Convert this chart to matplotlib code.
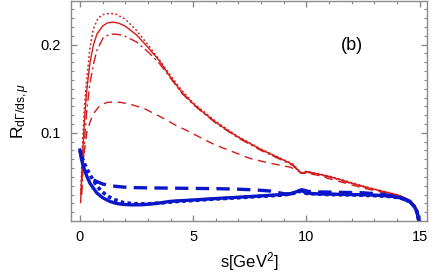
import matplotlib
matplotlib.use("Agg")
import matplotlib.pyplot as plt
from matplotlib.ticker import MultipleLocator

plt.rcParams["font.family"] = ["Liberation Sans", "DejaVu Sans"]
plt.rcParams["mathtext.fontset"] = "custom"
plt.rcParams["mathtext.rm"] = "Liberation Sans"
plt.rcParams["mathtext.it"] = "Liberation Sans:italic"

# ---------------------------------------------------------
# Data
# ---------------------------------------------------------

s_red_solid = [0.03, 0.1, 0.2, 0.3, 0.44, 0.6, 0.75, 1.0, 1.2, 1.44, 1.7, 2.0, 2.5,
               3.0, 3.5, 4.0, 4.5, 5.0, 5.5, 6.0, 6.5, 7.0, 7.5, 8.0, 8.5, 9.0,
               9.4, 9.7, 9.8, 10.0, 10.5, 11.0, 11.5, 12.0, 12.5, 13.0, 13.5,
               14.0, 14.3, 14.6, 14.8, 14.92, 15.0]
y_red_solid = [0.021, 0.065, 0.115, 0.148, 0.179, 0.200, 0.212, 0.221, 0.2245,
               0.2255, 0.2245, 0.221, 0.211, 0.197, 0.182, 0.163, 0.146, 0.133,
               0.122, 0.112, 0.103, 0.095, 0.088, 0.081, 0.075, 0.069, 0.064,
               0.056, 0.054, 0.056, 0.0535, 0.0505, 0.0468, 0.043, 0.039, 0.036,
               0.0328, 0.0297, 0.027, 0.0228, 0.017, 0.010, 0.0]

s_red_dotted = [0.04, 0.1, 0.2, 0.29, 0.44, 0.59, 0.8, 1.0, 1.32, 1.6, 2.0, 2.5,
                3.0, 3.5, 4.0, 4.5, 5.0, 6.0, 7.0, 8.0, 9.0, 9.4, 9.7, 9.8, 10.0,
                11.0, 12.0, 13.0, 14.0, 14.6, 14.8, 14.92, 15.0]
y_red_dotted = [0.03, 0.08, 0.13, 0.158, 0.196, 0.218, 0.230, 0.234, 0.2355,
                0.2345, 0.229, 0.216, 0.200, 0.183, 0.165, 0.148, 0.134, 0.113,
                0.0955, 0.0815, 0.0695, 0.0645, 0.0565, 0.0545, 0.0565, 0.051,
                0.0435, 0.0363, 0.030, 0.023, 0.017, 0.010, 0.0]

s_red_dashdot = [0.08, 0.2, 0.3, 0.44, 0.6, 0.74, 1.03, 1.3, 1.54, 1.8, 2.0, 2.5,
                 3.0, 3.5, 4.0, 4.5, 5.0, 6.0, 7.0, 8.0, 9.0, 9.4, 9.7, 9.8, 10.0,
                 11.0, 12.0, 13.0, 14.0, 14.6, 14.8, 14.92, 15.0]
y_red_dashdot = [0.03, 0.09, 0.125, 0.156, 0.178, 0.193, 0.208, 0.2115, 0.212,
                 0.211, 0.2095, 0.203, 0.192, 0.179, 0.162, 0.145, 0.132, 0.111,
                 0.094, 0.080, 0.068, 0.063, 0.0555, 0.0535, 0.0555, 0.050,
                 0.0425, 0.0357, 0.0295, 0.0226, 0.017, 0.010, 0.0]

s_red_dashed = [0.05, 0.15, 0.3, 0.44, 0.6, 0.88, 1.2, 1.47, 1.8, 2.2, 2.8, 3.5,
                4.2, 4.85, 5.44, 6.0, 6.9, 7.5, 8.4, 9.0, 9.3, 9.7, 9.85, 10.0,
                10.5, 11.0, 11.5, 12.0, 12.5, 13.0, 13.5, 14.0, 14.3, 14.6, 14.8,
                14.92, 15.0]
y_red_dashed = [0.03, 0.07, 0.10, 0.112, 0.122, 0.131, 0.1345, 0.135, 0.1345,
                0.1325, 0.128, 0.119, 0.109, 0.101, 0.093, 0.086, 0.077, 0.071,
                0.0655, 0.0625, 0.061, 0.0555, 0.054, 0.054, 0.052, 0.048,
                0.0445, 0.041, 0.0375, 0.0345, 0.032, 0.0293, 0.027, 0.0228,
                0.017, 0.010, 0.0]

s_blue_solid = [0.0, 0.05, 0.15, 0.3, 0.44, 0.6, 0.74, 1.0, 1.32, 1.6, 1.91, 2.3,
                2.79, 3.4, 3.97, 4.41, 5.0, 6.0, 6.9, 8.0, 8.8, 9.3, 9.6, 9.78,
                10.0, 10.3, 11.0, 12.0, 12.5, 13.3, 13.8, 14.2, 14.56, 14.75,
                14.88, 14.97]
y_blue_solid = [0.0805, 0.072, 0.062, 0.051, 0.043, 0.037, 0.032, 0.0265, 0.0222,
                0.020, 0.0188, 0.0183, 0.0185, 0.020, 0.0222, 0.023, 0.0238,
                0.0255, 0.0268, 0.0285, 0.0298, 0.031, 0.0335, 0.0345, 0.0318,
                0.031, 0.0305, 0.030, 0.0298, 0.029, 0.0279, 0.026, 0.0222,
                0.017, 0.011, 0.0]

s_blue_dotted = [0.0, 0.1, 0.2, 0.35, 0.5, 0.7, 0.9, 1.2, 1.5, 1.9, 2.4, 3.0,
                 3.6, 4.2, 5.0, 6.0, 7.0, 8.0, 9.0, 9.5, 9.78, 10.0, 11.0, 12.0,
                 13.0, 13.8, 14.2, 14.56, 14.75, 14.88, 14.97]
y_blue_dotted = [0.08, 0.072, 0.065, 0.057, 0.050, 0.042, 0.035, 0.0285, 0.0245,
                 0.021, 0.0195, 0.0195, 0.0205, 0.022, 0.0233, 0.025, 0.0264,
                 0.028, 0.0295, 0.0318, 0.034, 0.0313, 0.030, 0.0296, 0.0288,
                 0.0276, 0.0258, 0.022, 0.017, 0.011, 0.0]

s_blue_dashed = [0.6, 0.74, 1.0, 1.4, 1.91, 2.5, 3.2, 4.0, 5.0, 6.0, 6.9, 7.8,
                 8.4, 8.8, 9.1, 9.4, 9.6, 9.8, 10.1, 10.5, 11.5, 12.5, 13.3, 13.8,
                 14.2, 14.56, 14.75, 14.88, 14.97]
y_blue_dashed = [0.0465, 0.0448, 0.042, 0.0398, 0.0385, 0.0378, 0.0375, 0.0373,
                 0.037, 0.0367, 0.0362, 0.0352, 0.034, 0.032, 0.0305, 0.031,
                 0.034, 0.0355, 0.0335, 0.033, 0.0325, 0.032, 0.0305, 0.0285,
                 0.026, 0.0222, 0.017, 0.011, 0.0]

# ---------------------------------------------------------
# Plot
# ---------------------------------------------------------

red = "#d41a1a"
blue = "#0a16c8"

fig = plt.figure(figsize=(4.43, 2.74), dpi=100)
ax = fig.add_axes([0.160, 0.195, 0.805, 0.802])

ax.plot(s_red_solid, y_red_solid, color=red, lw=1.0, ls="-")
ax.plot(s_red_dotted, y_red_dotted, color=red, lw=1.1, ls=(0, (1.2, 1.6)))
ax.plot(s_red_dashdot, y_red_dashdot, color=red, lw=1.0,
        ls=(0, (7, 2.5, 1.5, 2.5)))
ax.plot(s_red_dashed, y_red_dashed, color=red, lw=1.0, ls=(0, (6, 4)))

ax.plot(s_blue_dashed, y_blue_dashed, color=blue, lw=2.4, ls=(0, (4, 2.2)))
ax.plot(s_blue_solid, y_blue_solid, color=blue, lw=2.4, ls="-")
ax.plot(s_blue_dotted, y_blue_dotted, color=blue, lw=2.6, ls=(0, (1, 0.9)),
        dash_capstyle="butt")

# ---------------------------------------------------------
# Formatting
# ---------------------------------------------------------

ax.set_xlim(-0.4, 15.35)
ax.set_ylim(0.0005, 0.2497)
ax.set_xticks([0, 5, 10, 15])
ax.set_yticks([0.1, 0.2])
ax.xaxis.set_minor_locator(MultipleLocator(1))
ax.yaxis.set_minor_locator(MultipleLocator(0.01))

grey = "#8a8a8a"
for sp in ax.spines.values():
    sp.set_color(grey)
    sp.set_linewidth(1.0)

ax.tick_params(which="both", direction="in", top=True, right=True,
               color=grey, labelsize=10.5, labelcolor="black")
ax.tick_params(which="major", length=4.5, width=1.0, pad=7)
ax.tick_params(which="minor", length=2.5, width=0.8)

ax.set_xlabel(r"s[GeV$^2$]", fontsize=12, labelpad=4)
ax.set_ylabel(r"R$_{\mathrm{d\Gamma/ds},\mu}$", fontsize=12.5, labelpad=6)

ax.text(12.0, 0.199, "(b)", fontsize=13, ha="center", va="center")

fig.savefig("out.png", dpi=100)
